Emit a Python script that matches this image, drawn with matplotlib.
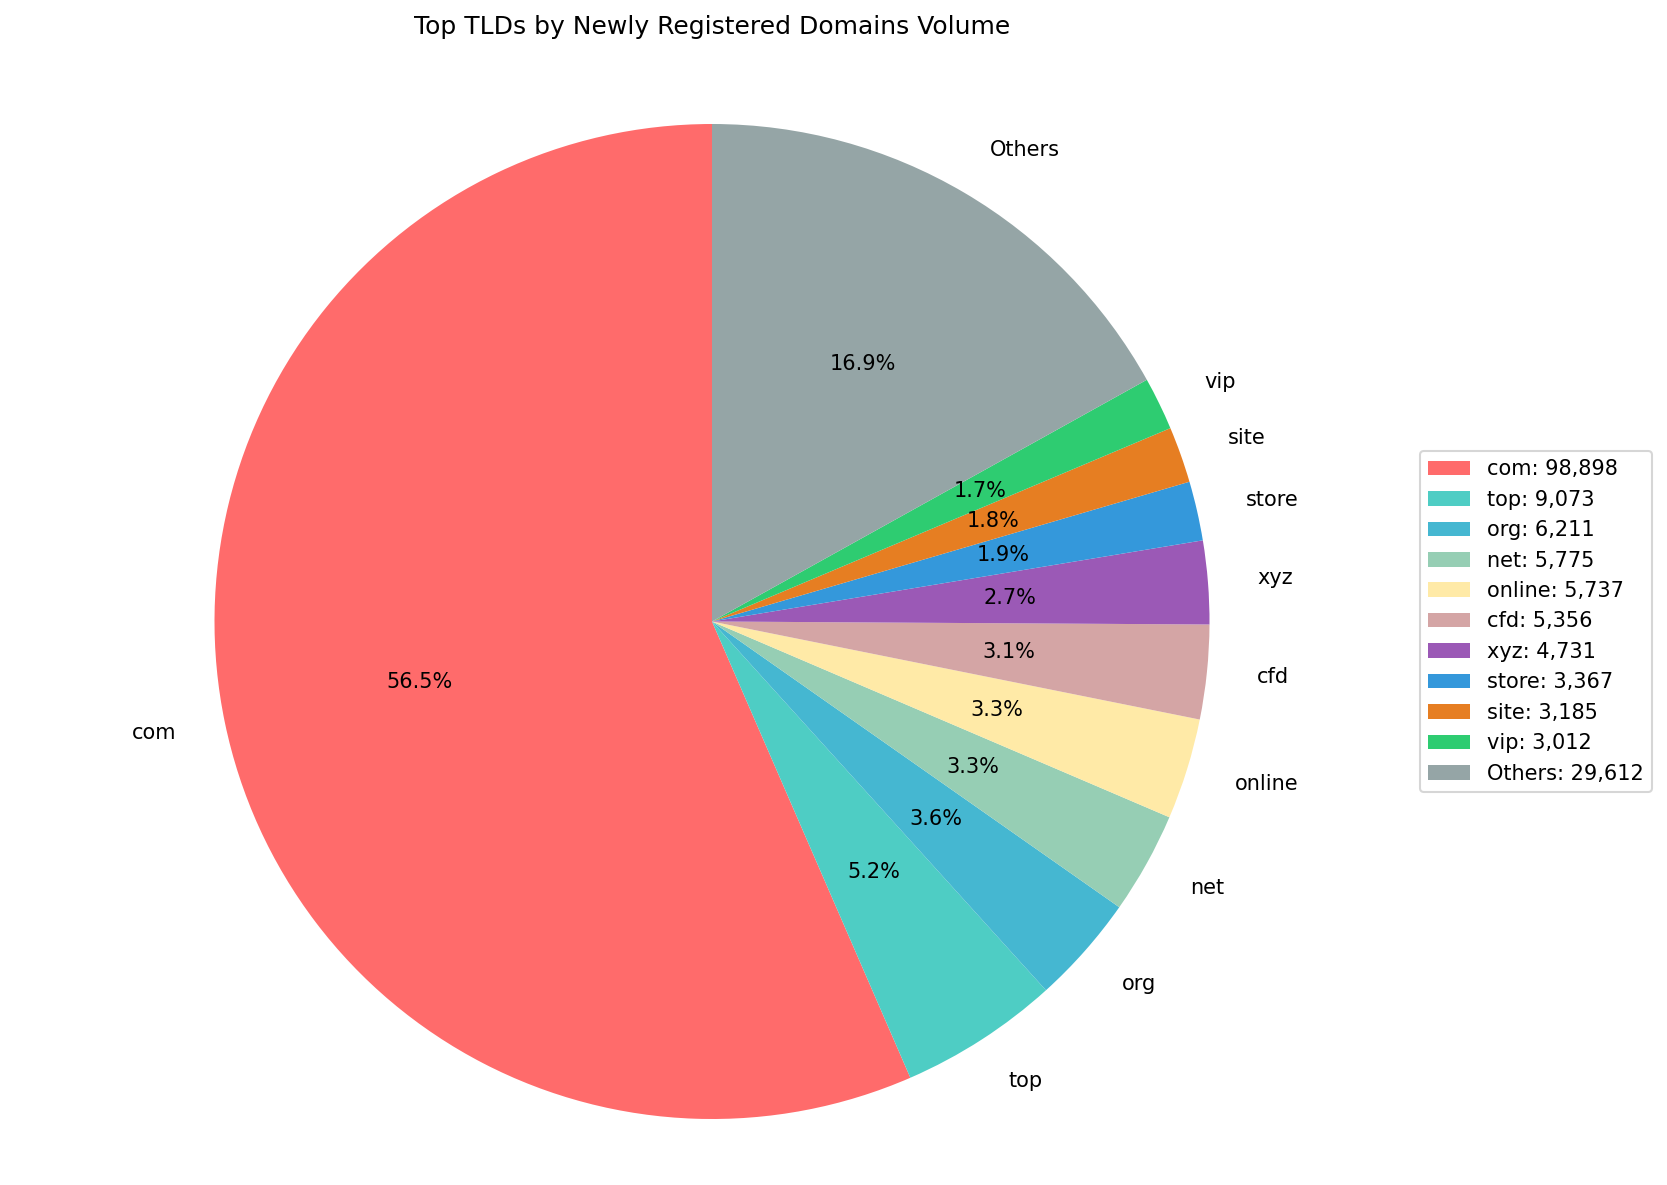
import matplotlib
matplotlib.use("Agg")
import matplotlib.pyplot as plt

tlds = ["com", "top", "org", "net", "online", "cfd", "xyz", "store", "site", "vip", "Others"]
counts = [98898, 9073, 6211, 5775, 5737, 5356, 4731, 3367, 3185, 3012, 29612]
colors = ["#FF6B6B", "#4ECDC4", "#45B7D1", "#96CEB4", "#FFEAA7", "#D4A5A5",
          "#9B59B6", "#3498DB", "#E67E22", "#2ECC71", "#95A5A6"]
title = "Top TLDs by Newly Registered Domains Volume"

W, H, DPI = 1667, 1185, 150
fig = plt.figure(figsize=(W / DPI, H / DPI), dpi=DPI)
cx, cy, r = 712, 621.5, 497.5
half = 1.25 * r
ax = fig.add_axes([(cx - half) / W, (H - cy - half) / H, 2 * half / W, 2 * half / H])
wedges, texts, autotexts = ax.pie(counts, labels=tlds, colors=colors, autopct="%1.1f%%",
                                  startangle=90, textprops={"fontsize": 10})
ax.set_xlim(-1.25, 1.25)
ax.set_ylim(-1.25, 1.25)
ax.set_aspect("equal")
fig.text(cx / W, 1 - 27 / H, title, ha="center", va="center", fontsize=12)
ax.legend(wedges, [f"{t}: {c:,}" for t, c in zip(tlds, counts)], loc="center left",
          bbox_to_anchor=(1420 / W, 1 - 621.5 / H), bbox_transform=fig.transFigure,
          borderaxespad=0, fontsize=10)
fig.savefig("out.png", dpi=DPI)
